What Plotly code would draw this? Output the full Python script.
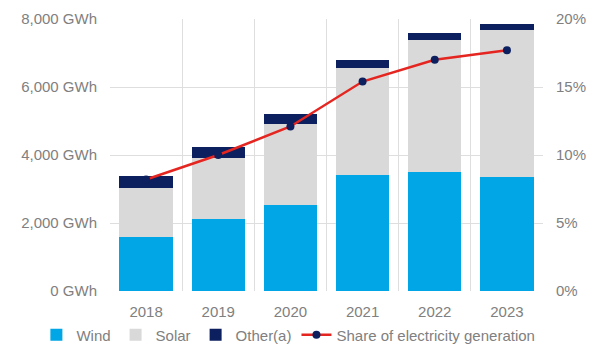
import plotly.graph_objects as go

years = ["2018", "2019", "2020", "2021", "2022", "2023"]
wind = [1580, 2120, 2530, 3410, 3510, 3360]
solar = [1450, 1790, 2380, 3150, 3870, 4310]
other = [350, 320, 300, 240, 210, 180]
share = [8.2, 10.0, 12.1, 15.4, 17.0, 17.7]

left_ticks = [0, 2000, 4000, 6000, 8000]
left_labels = ["0 GWh", "2,000 GWh", "4,000 GWh", "6,000 GWh", "8,000 GWh"]
right_ticks = [0, 5, 10, 15, 20]
right_labels = ["0%", "5%", "10%", "15%", "20%"]

x = list(range(len(years)))
font = "Liberation Sans, Arial, sans-serif"
tick_color = "#808080"
grid_color = "#dedede"

fig = go.Figure()
fig.add_trace(go.Bar(x=x, y=wind, name="Wind", marker_color="#00a6e6",
                     marker_line_width=0, width=0.74))
fig.add_trace(go.Bar(x=x, y=solar, name="Solar", marker_color="#d9d9d9",
                     marker_line_width=0, width=0.74))
fig.add_trace(go.Bar(x=x, y=other, name="Other(a)", marker_color="#0c1f5e",
                     marker_line_width=0, width=0.74))
fig.add_trace(go.Scatter(x=x, y=share, name="Share of electricity generation",
                         yaxis="y2", mode="lines+markers",
                         line=dict(color="#e52620", width=2.5),
                         marker=dict(color="#0c1f5e", size=8)))

fig.update_layout(
    width=598, height=349,
    margin=dict(l=110, r=55, t=19, b=58, autoexpand=False),
    barmode="stack",
    paper_bgcolor="white", plot_bgcolor="white",
    font=dict(family=font, size=15, color=tick_color),
    xaxis=dict(range=[-0.5, 5.5], tickvals=x, ticktext=years,
               showgrid=False, zeroline=False, ticks="", ticklabelstandoff=10,
               minor=dict(tickvals=[i - 0.5 for i in range(len(years) + 1)],
                          showgrid=True, gridcolor=grid_color, gridwidth=1)),
    yaxis=dict(range=[0, 8000], tickvals=left_ticks, ticktext=left_labels,
               showgrid=True, gridcolor=grid_color, zeroline=False,
               ticks="", ticklabelstandoff=12),
    yaxis2=dict(range=[0, 20], tickvals=right_ticks, ticktext=right_labels,
                overlaying="y", side="right", showgrid=False, zeroline=False,
                ticks="", ticklabelstandoff=12),
    legend=dict(orientation="h", x=-0.17, y=-0.162, xanchor="left",
                yanchor="middle", font=dict(size=15, color=tick_color),
                itemwidth=30, traceorder="normal", tracegroupgap=0),
    showlegend=True,
)

fig.write_html("out.html")
